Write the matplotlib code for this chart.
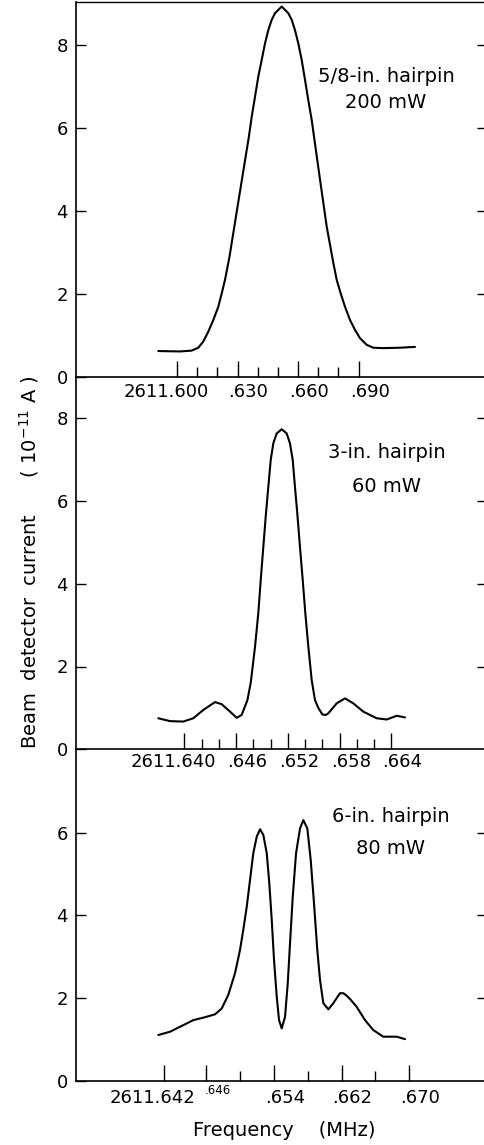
import matplotlib
matplotlib.use("Agg")
import matplotlib.pyplot as plt
import matplotlib.transforms as mtransforms

# 5/8-in. hairpin, 200 mW
freq_a = [2611.59073, 2611.60149, 2611.60728, 2611.61055, 2611.61303, 2611.61551,
          2611.61799, 2611.62047, 2611.62215, 2611.62379, 2611.62602, 2611.62948,
          2611.63320, 2611.63563, 2611.63702, 2611.63865, 2611.64029, 2611.64197,
          2611.64361, 2611.64524, 2611.64693, 2611.64856, 2611.65188, 2611.65515,
          2611.65684, 2611.65847, 2611.66011, 2611.66179, 2611.66343, 2611.66506,
          2611.66675, 2611.66789, 2611.67090, 2611.67420, 2611.67750, 2611.67914,
          2611.68112, 2611.68325, 2611.68573, 2611.68821, 2611.69068, 2611.69400,
          2611.69727, 2611.70223, 2611.71050, 2611.71794]
curr_a = [0.62, 0.61, 0.63, 0.70, 0.85, 1.09,
          1.37, 1.69, 2.01, 2.34, 2.90, 3.95,
          5.07, 5.80, 6.28, 6.76, 7.25, 7.65,
          8.05, 8.37, 8.62, 8.78, 8.94, 8.78,
          8.62, 8.37, 8.05, 7.65, 7.17, 6.68,
          6.20, 5.80, 4.75, 3.62, 2.74, 2.34,
          2.01, 1.69, 1.37, 1.13, 0.93, 0.77,
          0.70, 0.69, 0.70, 0.72]

# 3-in. hairpin, 60 mW
freq_b = [2611.63697, 2611.63833, 2611.63987, 2611.64103, 2611.64219, 2611.64355,
          2611.64432, 2611.64529, 2611.64606, 2611.64664, 2611.64731, 2611.64770,
          2611.64819, 2611.64857, 2611.64885, 2611.64915, 2611.64946, 2611.64973,
          2611.65001, 2611.65031, 2611.65070, 2611.65128, 2611.65186, 2611.65224,
          2611.65256, 2611.65282, 2611.65309, 2611.65340, 2611.65372, 2611.65402,
          2611.65437, 2611.65476, 2611.65514, 2611.65553, 2611.65600, 2611.65640,
          2611.65669, 2611.65766, 2611.65862, 2611.65958, 2611.66074, 2611.66230,
          2611.66346, 2611.66462, 2611.66558]
curr_b = [0.75, 0.68, 0.67, 0.75, 0.95, 1.14,
          1.09, 0.91, 0.76, 0.83, 1.19, 1.62,
          2.48, 3.29, 4.09, 4.89, 5.70, 6.34,
          6.99, 7.39, 7.63, 7.73, 7.63, 7.39,
          6.99, 6.34, 5.70, 4.89, 4.09, 3.29,
          2.48, 1.67, 1.19, 1.00, 0.84, 0.83,
          0.87, 1.11, 1.23, 1.11, 0.91, 0.75,
          0.72, 0.81, 0.77]

# 6-in. hairpin, 80 mW
freq_c = [2611.64037, 2611.64175, 2611.64313, 2611.64450, 2611.64588, 2611.64706,
          2611.64785, 2611.64863, 2611.64942, 2611.65001, 2611.65040, 2611.65081,
          2611.65120, 2611.65158, 2611.65199, 2611.65238, 2611.65277, 2611.65317,
          2611.65347, 2611.65376, 2611.65403, 2611.65435, 2611.65462, 2611.65494,
          2611.65533, 2611.65565, 2611.65592, 2611.65624, 2611.65663, 2611.65710,
          2611.65749, 2611.65796, 2611.65836, 2611.65875, 2611.65914, 2611.65946,
          2611.65985, 2611.66044, 2611.66103, 2611.66182, 2611.66221, 2611.66261,
          2611.66300, 2611.66379, 2611.66477, 2611.66575, 2611.66693, 2611.66852,
          2611.66950]
curr_c = [1.11, 1.19, 1.33, 1.47, 1.54, 1.61,
          1.75, 2.08, 2.60, 3.16, 3.65, 4.21,
          4.86, 5.50, 5.90, 6.08, 5.94, 5.50,
          4.78, 3.89, 2.92, 2.04, 1.47, 1.27,
          1.55, 2.36, 3.33, 4.45, 5.50, 6.10,
          6.30, 6.10, 5.34, 4.29, 3.16, 2.44,
          1.88, 1.73, 1.88, 2.12, 2.12, 2.06,
          1.98, 1.79, 1.47, 1.23, 1.07, 1.07,
          1.01]

labels_a = ["5/8-in. hairpin", "200 mW"]
labels_b = ["3-in. hairpin", "60 mW"]
labels_c = ["6-in. hairpin", "80 mW"]

major_a = [2611.600, 2611.630, 2611.660, 2611.690]
minor_a = [2611.610, 2611.620, 2611.640, 2611.650, 2611.670, 2611.680]
ticklab_a = ["2611.600", ".630", ".660", ".690"]

major_b = [2611.640, 2611.646, 2611.652, 2611.658, 2611.664]
minor_b = [2611.642, 2611.644, 2611.648, 2611.650, 2611.654, 2611.656,
           2611.660, 2611.662]
ticklab_b = ["2611.640", ".646", ".652", ".658", ".664"]

major_c = [2611.641, 2611.646, 2611.654, 2611.662, 2611.670]
minor_c = [2611.650, 2611.658, 2611.666]
ticklab_c = ["2611.642", ".646", ".654", ".662", ".670"]

plt.rcParams['font.family'] = ['DejaVu Sans']

fig = plt.figure(figsize=(4.84, 11.45), dpi=100)
W, H = 484.0, 1145.0


def make_axes(top_px, bot_px):
    return fig.add_axes([76 / W, 1 - bot_px / H, (W - 76) / W, (bot_px - top_px) / H],
                        facecolor='none')


ax_a = make_axes(2, 376.7)
ax_b = make_axes(376.7, 749.3)
ax_c = make_axes(749.3, 1081)

panels = [
    (ax_a, freq_a, curr_a, (2611.54995, 2611.75213), 9.05, [0, 2, 4, 6, 8],
     major_a, minor_a, ticklab_a, labels_a, 15, (386, 76, 103)),
    (ax_b, freq_b, curr_b, (2611.62743, 2611.67474), 9.0, [0, 2, 4, 6, 8],
     major_b, minor_b, ticklab_b, labels_b, 12.5, (387, 453, 487)),
    (ax_c, freq_c, curr_c, (2611.63065, 2611.67882), 8.01, [0, 2, 4, 6],
     major_c, minor_c, ticklab_c, labels_c, 17, (391, 816, 848)),
]

for ax, fx, cy, xlim, ytop, yt, maj, mnr, tl, note, lab_dy, note_pos in panels:
    ax.plot(fx, cy, color='black', lw=1.5, solid_joinstyle='round',
            solid_capstyle='round')
    ax.set_xlim(*xlim)
    ax.set_ylim(0, ytop)

    for side in ['left', 'bottom']:
        ax.spines[side].set_linewidth(1.2)
    ax.spines['right'].set_visible(False)
    ax.spines['top'].set_visible(ax is ax_a)
    ax.spines['top'].set_linewidth(1.0)

    ax.set_yticks(yt)
    ax.set_yticklabels([str(v) for v in yt], fontsize=13)
    ax.yaxis.set_tick_params(which='major', direction='in', length=7.5, width=1.0,
                             pad=6, left=True, right=True)
    for t in ax.yaxis.get_major_ticks():
        t.tick2line.set_markersize(5)
    ax.yaxis.get_major_ticks()[0].tick2line.set_visible(False)

    ax.set_xticks(maj)
    ax.set_xticks(mnr, minor=True)
    ax.set_xticklabels([])
    ax.tick_params(axis='x', which='major', direction='in', length=11.5, width=1.0)
    ax.tick_params(axis='x', which='minor', direction='in', length=7.5, width=1.0)

    base = mtransforms.blended_transform_factory(ax.transData, ax.transAxes)
    for i, (xv, s) in enumerate(zip(maj, tl)):
        dx = -11 if i == 0 else 11
        size, dy = 13, -lab_dy
        if ax is ax_c and i == 1:
            size, dy, dx = 8.5, -9, 12
        tr = mtransforms.offset_copy(base, fig=fig, x=dx, y=dy, units='dots')
        ax.text(xv, 0, s, transform=tr, ha='center', va='center', fontsize=size,
                clip_on=False)

    nx, ny1, ny2 = note_pos
    fig.text(nx / W, 1 - ny1 / H, note[0], ha='center', va='center', fontsize=14)
    fig.text(nx / W, 1 - ny2 / H, note[1], ha='center', va='center', fontsize=14)

fig.text(29 / W, 1 - 562 / H, "Beam  detector  current      ( 10$^{-11}$ A )",
         rotation=90, ha='center', va='center', fontsize=14)
fig.text(284 / W, 1 - 1130 / H, "Frequency    (MHz)", ha='center', va='center',
         fontsize=14)

fig.savefig("out.png", dpi=100)
